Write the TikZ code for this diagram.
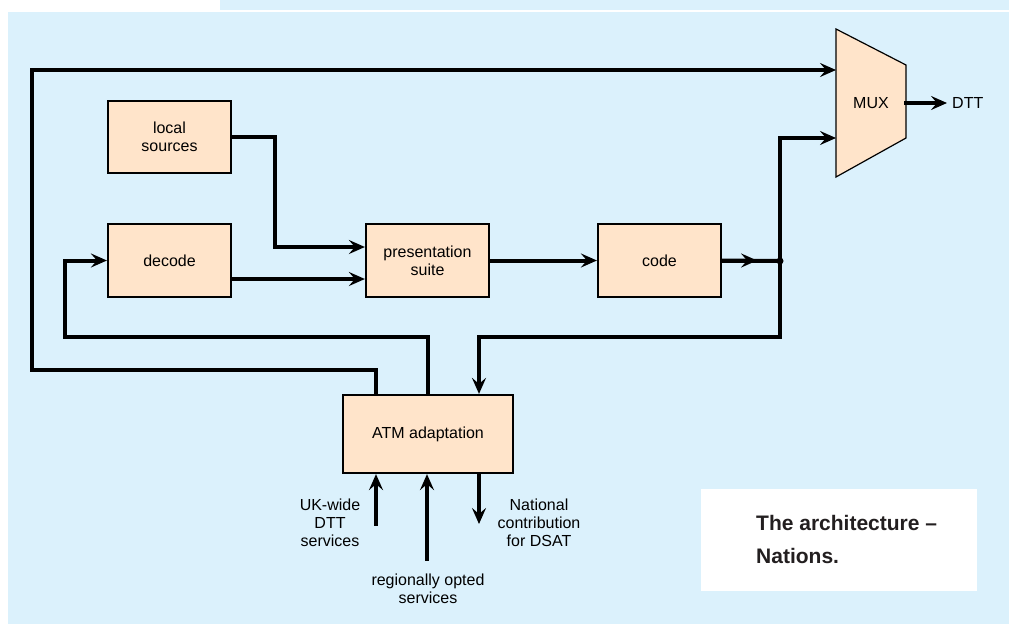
\documentclass[tikz,border=0pt]{standalone}
\usepackage{fontspec}
\setmainfont{Liberation Sans}
\usetikzlibrary{arrows.meta}
\definecolor{bgblue}{RGB}{219,241,252}
\definecolor{boxfill}{RGB}{255,228,202}
\definecolor{captxt}{RGB}{35,31,32}
\tikzset{
  blk/.style={draw=black, line width=2.2pt, fill=boxfill, inner sep=0pt, align=center,
    font=\fontsize{16}{18}\selectfont},
  conn/.style={line width=4pt, line cap=rect, line join=miter},
  arr/.style={conn, -{Stealth[length=16pt,width=14pt,inset=6pt]}},
  lbl/.style={align=center, font=\fontsize{16}{18}\selectfont, inner sep=0pt},
}
\begin{document}
\begin{tikzpicture}[x=1pt,y=-1pt]
\useasboundingbox (0,0) rectangle (1009,624);
\fill[bgblue] (220,0) rectangle (1009,9.5);
\fill[bgblue] (8,12) rectangle (1009,624);
\fill[white] (701,489) rectangle (977,591);
\node[lbl, anchor=west, align=left, text=captxt, font=\fontsize{21}{33}\selectfont\bfseries] (cap) at (756,539.5) {The architecture --\\Nations.};

% boxes
\node[blk, minimum width=123pt, minimum height=72pt] (local) at (169.5,137) {local\\sources};
\node[blk, minimum width=123pt, minimum height=73pt] (decode) at (169.5,260.5) {decode};
\node[blk, minimum width=123pt, minimum height=73pt] (pres) at (427.5,260.5) {presentation\\suite};
\node[blk, minimum width=123pt, minimum height=73pt] (code) at (659.5,260.5) {code};
\node[blk, minimum width=170pt, minimum height=78pt] (atm) at (428,434) {ATM adaptation};

% MUX trapezoid
\coordinate (mtl) at (836,29);
\coordinate (mtr) at (906,65);
\coordinate (mbr) at (906,138);
\coordinate (mbl) at (836,177);
\fill[boxfill] (mtl) -- (mtr) -- (mbr) -- (mbl) -- cycle;
\draw[line width=1.2pt, line join=miter] (mtl) -- (mtr) -- (mbr) -- (mbl) -- cycle;
\node[lbl] (mux) at (871,103) {MUX};
\coordinate (min1) at (836,70);
\coordinate (min2) at (836,138);
\coordinate (mout) at (906,103);
\coordinate (dttend) at (947,103);
\node[lbl, anchor=west] (dtt) at (952,103) {DTT};
\draw[arr] (mout) -- (dttend);

% connectors
\draw[arr] (local.east) -- (275,137) |- ([yshift=13.5pt]pres.west);
\draw[arr] ([yshift=-18.5pt]decode.east) -- ([yshift=-18.5pt]pres.west);
\draw[arr] (pres.east) -- (code.west);
\coordinate (j) at (780,261);
\draw[conn] (code.east) -- (j);
\draw[arr] (code.east) -- ([xshift=35pt]code.east);
\fill (j) circle (3.5pt);
\draw[arr] (j) |- (min2);
\draw[arr] (j) -- (780,337) -| ([xshift=51pt]atm.north);
\draw[arr] ([xshift=-52pt]atm.north) -- (376,370) -- (32,370) -- (32,70) -- (min1);
\draw[arr] (atm.north) -- (428,337) -- (65,337) |- (decode.west);

% bottom
\coordinate (ukstart) at (376,524);
\coordinate (regstart) at (427,559);
\coordinate (natend) at (479,524);
\draw[arr] (ukstart) -- ([xshift=-52pt]atm.south);
\draw[arr] (regstart) -- ([xshift=-1pt]atm.south);
\draw[arr] ([xshift=51pt]atm.south) -- (natend);
\node[lbl] (uk) at (330,523) {UK-wide\\DTT\\services};
\node[lbl] (nat) at (539,523) {National\\contribution\\for DSAT};
\node[lbl] (reg) at (428,589) {regionally opted\\services};
\end{tikzpicture}
\end{document}
